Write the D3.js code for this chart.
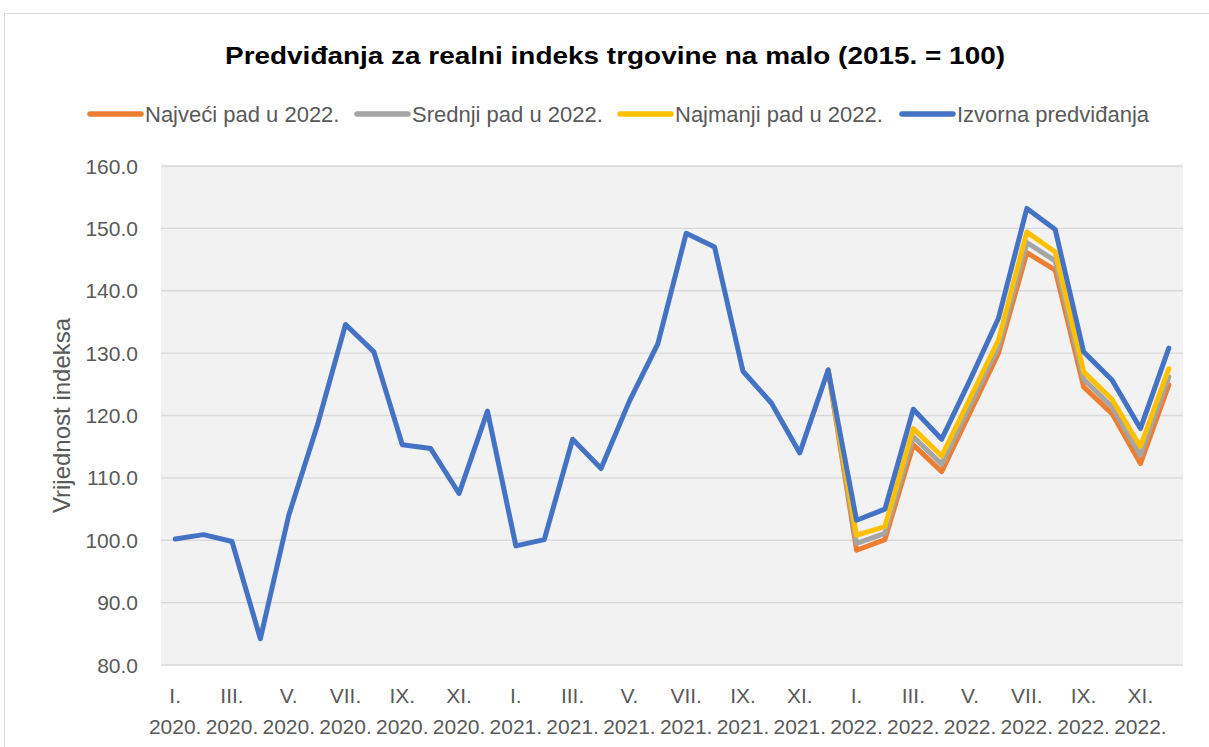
<html>
  <head>
    <meta charset="utf-8">
    <script src="https://cdn.jsdelivr.net/npm/d3@7"></script>
    <style>
      body { margin: 0; background: #fff; }
      text { font-family: "Liberation Sans", Arial, sans-serif; fill: #595959; }
    </style>
  </head>
  <body>
    <script>
      // months and years for the category axis
      var months = ["I.", "II.", "III.", "IV.", "V.", "VI.", "VII.", "VIII.", "IX.", "X.", "XI.", "XII."];
      var years = ["2020.", "2021.", "2022."];

      // Izvorna predviđanja (36 months, 2020-2022)
      var izvorna = [100.2, 100.9, 99.8, 84.2, 104.0, 118.3, 134.6, 130.2, 115.3, 114.7, 107.5, 120.7,
                     99.1, 100.1, 116.2, 111.5, 122.3, 131.5, 149.2, 147.0, 127.1, 122.0, 114.0, 127.3,
                     103.2, 105.0, 121.0, 116.2, 125.7, 135.6, 153.2, 149.8, 130.2, 125.7, 117.9, 130.8];
      // scenarios start at XII. 2021.
      var najveci  = [127.3, 98.4, 100.1, 115.3, 111.0, 120.5, 130.0, 146.1, 143.3, 124.6, 120.3, 112.3, 124.9];
      var srednji  = [127.3, 99.5, 101.1, 116.6, 112.2, 121.6, 131.0, 147.7, 144.8, 125.8, 121.4, 113.6, 126.2];
      var najmanji = [127.3, 100.8, 102.2, 117.9, 113.5, 122.8, 132.1, 149.4, 146.2, 127.0, 122.6, 115.0, 127.5];
      var scenarioStart = 23;

      var yTicks = [80, 90, 100, 110, 120, 130, 140, 150, 160];

      var width = 1209, height = 747;
      var plotL = 161, plotR = 1183, plotT = 166, plotB = 665;

      var svg = d3.select("body").append("svg")
          .attr("width", width)
          .attr("height", height);

      // chart border
      svg.append("rect")
          .attr("x", 4.5).attr("y", 13.5)
          .attr("width", 1220).attr("height", 760)
          .attr("fill", "#fff")
          .attr("stroke", "#D9D9D9");

      var labels = [];
      years.forEach(function(yr) {
        months.forEach(function(m) { labels.push({m: m, y: yr}); });
      });

      var x = d3.scaleBand()
          .domain(d3.range(labels.length))
          .range([plotL, plotR])
          .padding(0);
      var cx = function(i) { return x(i) + x.bandwidth() / 2; };

      var y = d3.scaleLinear().domain([80, 160]).range([plotB, plotT]);

      // plot background
      svg.append("rect")
          .attr("x", plotL).attr("y", plotT)
          .attr("width", plotR - plotL).attr("height", plotB - plotT)
          .attr("fill", "#F2F2F2");

      // gridlines
      svg.append("g")
        .selectAll("line")
        .data(yTicks)
        .enter().append("line")
          .attr("x1", plotL).attr("x2", plotR)
          .attr("y1", function(d) { return y(d); })
          .attr("y2", function(d) { return y(d); })
          .attr("stroke", "#D9D9D9")
          .attr("stroke-width", 1.4);

      // y tick labels
      svg.append("g")
        .selectAll("text")
        .data(yTicks)
        .enter().append("text")
          .attr("x", 138)
          .attr("y", function(d) { return y(d); })
          .attr("dy", "0.36em")
          .attr("text-anchor", "end")
          .style("font-size", "21px")
          .text(function(d) { return d.toFixed(1); });

      // x labels, every other month
      var xl = svg.append("g")
        .selectAll("text")
        .data(labels.map(function(d, i) { return {d: d, i: i}; }).filter(function(o) { return o.i % 2 === 0; }))
        .enter().append("text")
          .attr("text-anchor", "middle")
          .style("font-size", "21px");
      xl.append("tspan")
          .attr("x", function(o) { return cx(o.i); })
          .attr("y", 703)
          .text(function(o) { return o.d.m; });
      xl.append("tspan")
          .attr("x", function(o) { return cx(o.i); })
          .attr("y", 734)
          .text(function(o) { return o.d.y; });

      // y axis title
      svg.append("text")
          .attr("transform", "translate(70," + ((plotT + plotB) / 2) + ") rotate(-90)")
          .attr("text-anchor", "middle")
          .style("font-size", "24px")
          .text("Vrijednost indeksa");

      // title
      svg.append("text")
          .attr("x", 615).attr("y", 64)
          .attr("text-anchor", "middle")
          .attr("textLength", 780)
          .attr("lengthAdjust", "spacingAndGlyphs")
          .style("font-size", "24px")
          .style("font-weight", "bold")
          .style("fill", "#000")
          .text("Predviđanja za realni indeks trgovine na malo (2015. = 100)");

      var series = [
        {name: "Najveći pad u 2022.", color: "#ED7D31", values: najveci, start: scenarioStart, lx: 88},
        {name: "Srednji pad u 2022.", color: "#A5A5A5", values: srednji, start: scenarioStart, lx: 355},
        {name: "Najmanji pad u 2022.", color: "#FFC000", values: najmanji, start: scenarioStart, lx: 618},
        {name: "Izvorna predviđanja", color: "#4472C4", values: izvorna, start: 0, lx: 900}
      ];

      var line = d3.line()
          .x(function(d) { return cx(d.i); })
          .y(function(d) { return y(d.v); });

      svg.append("g")
        .selectAll("path")
        .data(series)
        .enter().append("path")
          .attr("d", function(s) {
            return line(s.values.map(function(v, k) { return {i: s.start + k, v: v}; }));
          })
          .attr("fill", "none")
          .attr("stroke", function(s) { return s.color; })
          .attr("stroke-width", 5)
          .attr("stroke-linejoin", "round")
          .attr("stroke-linecap", "round");

      // legend
      var lg = svg.append("g")
        .selectAll("g")
        .data(series)
        .enter().append("g")
          .attr("transform", function(s) { return "translate(" + s.lx + ",114)"; });
      lg.append("line")
          .attr("x1", 2).attr("x2", 53)
          .attr("stroke", function(s) { return s.color; })
          .attr("stroke-width", 5.5)
          .attr("stroke-linecap", "round");
      lg.append("text")
          .attr("x", 57).attr("y", 8)
          .style("font-size", "22px")
          .text(function(s) { return s.name; });
    </script>
  </body>
</html>
